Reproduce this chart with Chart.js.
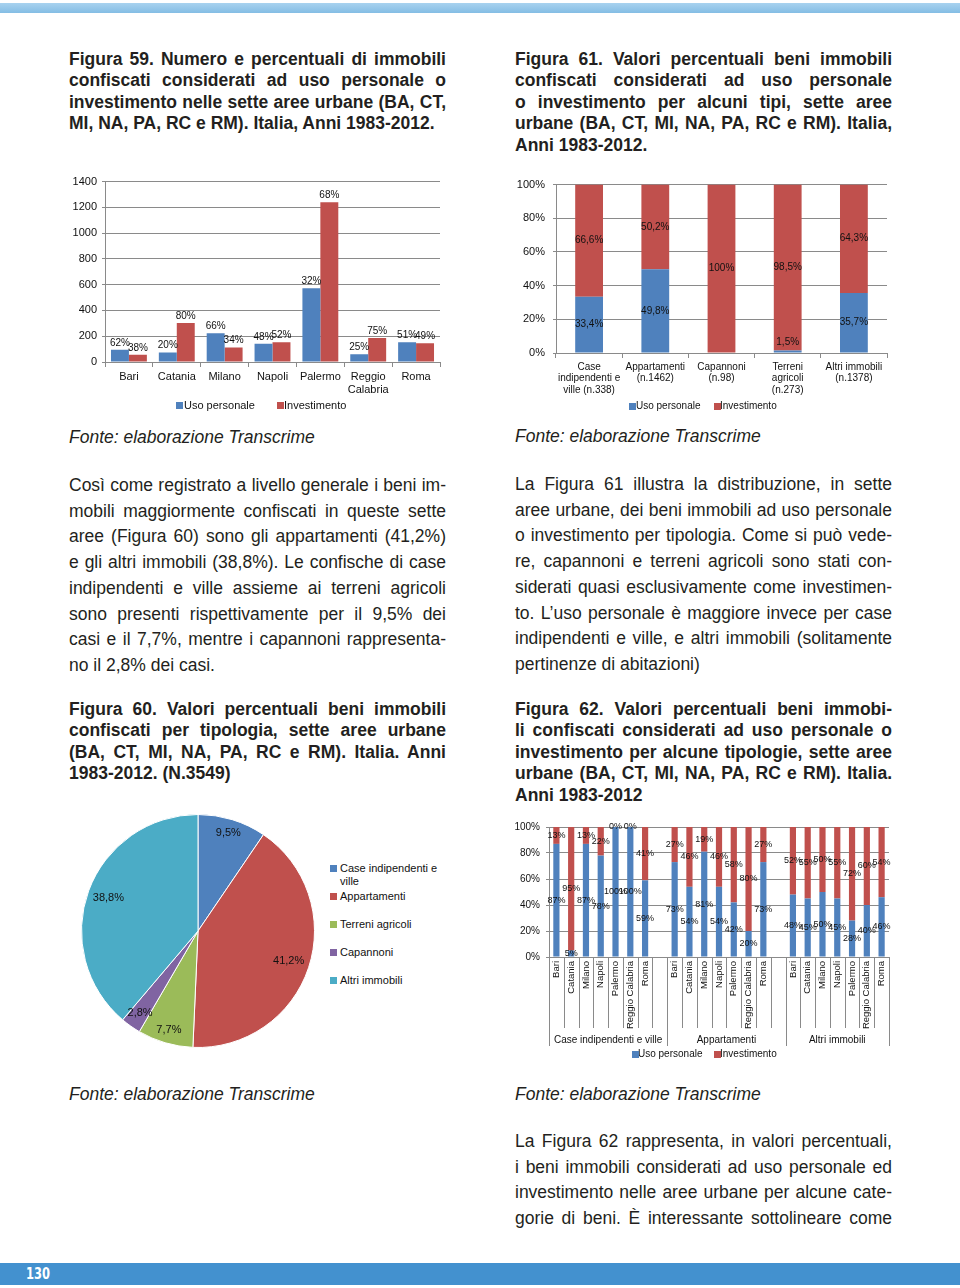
<!DOCTYPE html>
<html><head><meta charset="utf-8">
<script src="https://cdn.jsdelivr.net/npm/chart.js@4/dist/chart.umd.min.js"></script>
<style>
html,body{margin:0;padding:0;background:#fff;}
body{width:960px;height:1288px;position:relative;overflow:hidden;font-family:'Liberation Sans',Arial,Helvetica,sans-serif;color:#231f20;}
.abs{position:absolute;}
.cap{font-weight:bold;font-size:17.5px;line-height:21.4px;width:377px;}
.txt{font-size:17.5px;line-height:25.7px;width:377px;}
.ln{text-align:justify;text-align-last:justify;white-space:normal;}
.last{text-align:left;text-align-last:left;}
.src{font-style:italic;font-size:17.5px;line-height:22px;white-space:nowrap;}
.hdr{left:0;top:3px;width:960px;height:10px;background:linear-gradient(#a8d2ef,#84bde4);}
.ftr{left:0;top:1263px;width:960px;height:22px;background:#4391cf;}
.pg{left:26px;top:1263px;height:22px;line-height:22px;color:#fff;font-weight:bold;font-size:15px;font-family:'Liberation Sans Narrow','DejaVu Sans Condensed',sans-serif;transform:scaleX(0.85);transform-origin:left;}
.lg{position:absolute;white-space:nowrap;color:#111;}
.lg i{position:absolute;left:0;width:7px;height:7px;}
canvas{position:absolute;}
</style>
</head>
<body>
<div class="abs hdr"></div>

<!-- Left column -->
<div class="abs cap" style="left:69px;top:49px;">
<div class="ln">Figura 59. Numero e percentuali di immobili</div>
<div class="ln">confiscati considerati ad uso personale o</div>
<div class="ln">investimento nelle sette aree urbane (BA, CT,</div>
<div class="ln last">MI, NA, PA, RC e RM). Italia, Anni 1983-2012.</div>
</div>

<div class="abs src" style="left:69px;top:426px;">Fonte: elaborazione Transcrime</div>

<div class="abs txt" style="left:69px;top:473px;">
<div class="ln">Così come registrato a livello generale i beni im-</div>
<div class="ln">mobili maggiormente confiscati in queste sette</div>
<div class="ln">aree (Figura 60) sono gli appartamenti (41,2%)</div>
<div class="ln">e gli altri immobili (38,8%). Le confische di case</div>
<div class="ln">indipendenti e ville assieme ai terreni agricoli</div>
<div class="ln">sono presenti rispettivamente per il 9,5% dei</div>
<div class="ln">casi e il 7,7%, mentre i capannoni rappresenta-</div>
<div class="ln last">no il 2,8% dei casi.</div>
</div>

<div class="abs cap" style="left:69px;top:699px;">
<div class="ln">Figura 60. Valori percentuali beni immobili</div>
<div class="ln">confiscati per tipologia, sette aree urbane</div>
<div class="ln">(BA, CT, MI, NA, PA, RC e RM). Italia. Anni</div>
<div class="ln last">1983-2012. (N.3549)</div>
</div>

<div class="abs src" style="left:69px;top:1083px;">Fonte: elaborazione Transcrime</div>

<!-- Right column -->
<div class="abs cap" style="left:515px;top:49px;">
<div class="ln">Figura 61. Valori percentuali beni immobili</div>
<div class="ln">confiscati considerati ad uso personale</div>
<div class="ln">o investimento per alcuni tipi, sette aree</div>
<div class="ln">urbane (BA, CT, MI, NA, PA, RC e RM). Italia,</div>
<div class="ln last">Anni 1983-2012.</div>
</div>

<div class="abs src" style="left:515px;top:425px;">Fonte: elaborazione Transcrime</div>

<div class="abs txt" style="left:515px;top:472px;">
<div class="ln">La Figura 61 illustra la distribuzione, in sette</div>
<div class="ln">aree urbane, dei beni immobili ad uso personale</div>
<div class="ln">o investimento per tipologia. Come si può vede-</div>
<div class="ln">re, capannoni e terreni agricoli sono stati con-</div>
<div class="ln">siderati quasi esclusivamente come investimen-</div>
<div class="ln">to. L’uso personale è maggiore invece per case</div>
<div class="ln">indipendenti e ville, e altri immobili (solitamente</div>
<div class="ln last">pertinenze di abitazioni)</div>
</div>

<div class="abs cap" style="left:515px;top:699px;">
<div class="ln">Figura 62. Valori percentuali beni immobi-</div>
<div class="ln">li confiscati considerati ad uso personale o</div>
<div class="ln">investimento per alcune tipologie, sette aree</div>
<div class="ln">urbane (BA, CT, MI, NA, PA, RC e RM). Italia.</div>
<div class="ln last">Anni 1983-2012</div>
</div>

<div class="abs src" style="left:515px;top:1083px;">Fonte: elaborazione Transcrime</div>

<div class="abs txt" style="left:515px;top:1129px;">
<div class="ln">La Figura 62 rappresenta, in valori percentuali,</div>
<div class="ln">i beni immobili considerati ad uso personale ed</div>
<div class="ln">investimento nelle aree urbane per alcune cate-</div>
<div class="ln">gorie di beni. È interessante sottolineare come</div>
</div>

<div class="abs ftr"></div>
<div class="abs pg">130</div>

<canvas id="c59" width="390" height="232" style="left:60px;top:170px;"></canvas>
<canvas id="c61" width="390" height="232" style="left:510px;top:170px;"></canvas>
<canvas id="c60" width="260" height="260" style="left:68px;top:801px;"></canvas>
<canvas id="c62" width="395" height="236" style="left:505px;top:815px;"></canvas>

<script>
// ---------------- DATA ----------------
const seriesNames = ['Uso personale', 'Investimento'];
const seriesColors = ['#4f81bd', '#c0504d'];

// Figura 59
const cities59 = ['Bari', 'Catania', 'Milano', 'Napoli', 'Palermo', ['Reggio', 'Calabria'], 'Roma'];
const uso59 = [95, 74, 223, 141, 573, 61, 154];
const inv59 = [56, 302, 113, 154, 1239, 187, 146];
const uso59Pct = [62, 20, 66, 48, 32, 25, 51];
const inv59Pct = [38, 80, 34, 52, 68, 75, 49];

// Figura 61
const types61 = [['Case', 'indipendenti e', 'ville (n.338)'], ['Appartamenti', '(n.1462)'], ['Capannoni', '(n.98)'], ['Terreni', 'agricoli', '(n.273)'], ['Altri immobili', '(n.1378)']];
const uso61 = [33.4, 49.8, 0, 1.5, 35.7];
const inv61 = [66.6, 50.2, 100, 98.5, 64.3];

// Figura 60
const types60 = ['Case indipendenti e ville', 'Appartamenti', 'Terreni agricoli', 'Capannoni', 'Altri immobili'];
const share60 = [9.5, 41.2, 7.7, 2.8, 38.8];
const colors60 = ['#4f81bd', '#c0504d', '#9bbb59', '#8064a2', '#4bacc6'];

// Figura 62
const cities62 = ['Bari', 'Catania', 'Milano', 'Napoli', 'Palermo', 'Reggio Calabria', 'Roma'];
const groups62 = ['Case indipendenti e ville', 'Appartamenti', 'Altri immobili'];
const usoCase62 = [87, 5, 87, 78, 100, 100, 59];
const invCase62 = [13, 95, 13, 22, 0, 0, 41];
const usoApp62 = [73, 54, 81, 54, 42, 20, 73];
const invApp62 = [27, 46, 19, 46, 58, 80, 27];
const usoAltri62 = [48, 45, 50, 45, 28, 40, 46];
const invAltri62 = [52, 55, 50, 55, 72, 60, 54];

// ---------------- HELPERS ----------------
const FONT = "'Liberation Sans', Arial, Helvetica, sans-serif";
Chart.defaults.font.family = FONT;
Chart.defaults.color = '#111';
const GRID = '#8a8a8a';
const pctFmt = v => (Number.isInteger(v) ? String(v) : v.toFixed(1).replace('.', ',')) + '%';

const valueLabels = {
  id: 'valueLabels',
  afterDatasetsDraw(chart, args, o) {
    if (!o || !o.mode) return;
    const ctx = chart.ctx;
    ctx.save();
    ctx.font = o.size + 'px ' + FONT;
    ctx.fillStyle = o.color || '#111';
    ctx.textAlign = 'center';
    ctx.textBaseline = 'middle';
    chart.data.datasets.forEach((ds, di) => {
      const meta = chart.getDatasetMeta(di);
      meta.data.forEach((el, i) => {
        const v = ds.data[i];
        if (v === null || v === undefined) return;
        if (v === 0 && !o.showZero) return;
        const text = o.format(v, di, i);
        if (o.mode === 'top') {
          ctx.fillText(text, el.x, el.y - o.offset);
        } else if (o.mode === 'center') {
          const h = Math.abs(el.base - el.y);
          let y = (el.y + el.base) / 2;
          if (o.smallAbove && v > 0 && h < o.smallAbove) y = el.y - 8;
          ctx.fillText(text, el.x, y);
        } else if (o.mode === 'arc') {
          const mid = (el.startAngle + el.endAngle) / 2;
          const w = ctx.measureText(text).width, hh = o.size;
          const r = el.outerRadius - (Math.abs(Math.cos(mid)) * w / 2 + Math.abs(Math.sin(mid)) * hh / 2) - o.pad;
          ctx.fillText(text, el.x + Math.cos(mid) * r, el.y + Math.sin(mid) * r);
        }
      });
    });
    ctx.restore();
  }
};

const groupAxis = {
  id: 'groupAxis',
  afterDraw(chart, args, o) {
    if (!o || !o.groups) return;
    const xs = chart.scales.x, ctx = chart.ctx;
    const n = chart.data.labels.length;
    const bottom = chart.chartArea.bottom;
    const step = xs.getPixelForValue(1) - xs.getPixelForValue(0);
    const edge = i => xs.getPixelForValue(0) - step / 2 + i * step;
    const longEdges = new Set();
    o.groups.forEach(g => { longEdges.add(g.start); longEdges.add(g.end + 1); });
    ctx.save();
    ctx.strokeStyle = GRID;
    ctx.lineWidth = 1;
    for (let i = 0; i <= n; i++) {
      const px = Math.round(edge(i)) + 0.5;
      ctx.beginPath();
      ctx.moveTo(px, bottom);
      ctx.lineTo(px, bottom + (longEdges.has(i) ? o.longTick : o.shortTick));
      ctx.stroke();
    }
    ctx.font = o.size + 'px ' + FONT;
    ctx.fillStyle = '#111';
    ctx.textAlign = 'center';
    ctx.textBaseline = 'middle';
    o.groups.forEach(g => ctx.fillText(g.label, (edge(g.start) + edge(g.end + 1)) / 2, bottom + o.labelOffset));
    ctx.restore();
  }
};

function yAxis(opts) {
  return Object.assign({
    beginAtZero: true,
    grid: { color: GRID, drawTicks: true, tickLength: 3 },
    border: { display: true, color: GRID },
    afterFit: s => { s.width = opts.width; }
  }, opts.extra);
}

function legendHTML(items, size, y) {
  items.forEach(it => {
    const d = document.createElement('div');
    d.className = 'lg';
    d.style.left = it.x + 'px';
    d.style.top = (y - size * 0.6) + 'px';
    d.style.fontSize = size + 'px';
    d.style.lineHeight = (size * 1.2) + 'px';
    d.style.paddingLeft = it.gap + 'px';
    const sq = document.createElement('i');
    sq.style.background = it.color;
    sq.style.top = (size * 0.6 - 3.5) + 'px';
    d.appendChild(sq);
    d.appendChild(document.createTextNode(it.text));
    document.body.appendChild(d);
  });
}

// ---------------- FIGURA 59 ----------------
new Chart(document.getElementById('c59'), {
  type: 'bar',
  data: {
    labels: cities59,
    datasets: [
      { label: seriesNames[0], data: uso59, backgroundColor: seriesColors[0] },
      { label: seriesNames[1], data: inv59, backgroundColor: seriesColors[1] }
    ]
  },
  options: {
    responsive: false, animation: false, devicePixelRatio: 1,
    categoryPercentage: 0.75, barPercentage: 1.0,
    layout: { padding: { top: 10, right: 10, left: 0, bottom: 0 } },
    plugins: {
      legend: { display: false }, tooltip: { enabled: false },
      valueLabels: { mode: 'top', size: 10, offset: 7, format: (v, di, i) => (di === 0 ? uso59Pct : inv59Pct)[i] + '%' }
    },
    scales: {
      x: {
        grid: { display: true, drawOnChartArea: false, drawTicks: true, tickLength: 5, offset: true, color: GRID },
        border: { display: true, color: GRID },
        ticks: { font: { size: 11, lineHeight: 1.2 }, padding: 3, maxRotation: 0, color: '#111' },
        afterFit: s => { s.height = 40; }
      },
      y: yAxis({ width: 45, extra: { min: 0, max: 1400, ticks: { stepSize: 200, font: { size: 11 }, padding: 5, color: '#111', callback: v => String(v) } } })
    }
  },
  plugins: [valueLabels]
});
legendHTML([
  { x: 176, gap: 8, color: seriesColors[0], text: seriesNames[0] },
  { x: 277, gap: 7, color: seriesColors[1], text: seriesNames[1] }
], 11, 406);

// ---------------- FIGURA 61 ----------------
new Chart(document.getElementById('c61'), {
  type: 'bar',
  data: {
    labels: types61,
    datasets: [
      { label: seriesNames[0], data: uso61, backgroundColor: seriesColors[0] },
      { label: seriesNames[1], data: inv61, backgroundColor: seriesColors[1] }
    ]
  },
  options: {
    responsive: false, animation: false, devicePixelRatio: 1,
    categoryPercentage: 0.42, barPercentage: 1.0,
    layout: { padding: { top: 9, right: 13, left: 0, bottom: 0 } },
    plugins: {
      legend: { display: false }, tooltip: { enabled: false },
      valueLabels: { mode: 'center', size: 10, smallAbove: 6, showZero: false, format: v => pctFmt(v) }
    },
    scales: {
      x: {
        stacked: true,
        grid: { display: true, drawOnChartArea: false, drawTicks: true, tickLength: 5, offset: true, color: GRID },
        border: { display: true, color: GRID },
        ticks: { font: { size: 10, lineHeight: 1.15 }, padding: 3, maxRotation: 0, color: '#111' },
        afterFit: s => { s.height = 49; }
      },
      y: yAxis({ width: 46, extra: { stacked: true, min: 0, max: 100, ticks: { stepSize: 20, font: { size: 11 }, padding: 8, color: '#111', callback: v => v + '%' } } })
    }
  },
  plugins: [valueLabels]
});
legendHTML([
  { x: 629, gap: 7, color: seriesColors[0], text: seriesNames[0] },
  { x: 714, gap: 6, color: seriesColors[1], text: seriesNames[1] }
], 10, 406);

// ---------------- FIGURA 60 (pie) ----------------
new Chart(document.getElementById('c60'), {
  type: 'pie',
  data: {
    labels: types60,
    datasets: [{ data: share60, backgroundColor: colors60, borderColor: '#ffffff', borderWidth: 1 }]
  },
  options: {
    responsive: false, animation: false, devicePixelRatio: 1,
    layout: { padding: 13 },
    plugins: {
      legend: { display: false }, tooltip: { enabled: false },
      valueLabels: { mode: 'arc', size: 11, pad: 4.5, format: v => pctFmt(v) }
    }
  },
  plugins: [valueLabels]
});
(function () {
  const ys = [868, 896, 924, 952, 980];
  types60.forEach((t, i) => {
    const d = document.createElement('div');
    d.className = 'lg';
    d.style.left = '330px';
    d.style.top = (ys[i] - 6.5) + 'px';
    d.style.fontSize = '11px';
    d.style.lineHeight = '13px';
    d.style.paddingLeft = '10px';
    d.style.whiteSpace = 'normal';
    d.style.width = '102px';
    const sq = document.createElement('i');
    sq.style.background = colors60[i];
    sq.style.top = '3px';
    d.appendChild(sq);
    d.appendChild(document.createTextNode(t));
    document.body.appendChild(d);
  });
})();

// ---------------- FIGURA 62 ----------------
const usoGroups62 = [usoCase62, usoApp62, usoAltri62];
const invGroups62 = [invCase62, invApp62, invAltri62];
const labels62 = [], uso62 = [], inv62 = [], groupSpans62 = [];
groups62.forEach((g, gi) => {
  const start = labels62.length;
  cities62.forEach((c, ci) => { labels62.push(c); uso62.push(usoGroups62[gi][ci]); inv62.push(invGroups62[gi][ci]); });
  if (gi < groups62.length - 1) { labels62.push(''); uso62.push(null); inv62.push(null); }
  groupSpans62.push({ label: g, start: start, end: labels62.length - 1 });
});

new Chart(document.getElementById('c62'), {
  type: 'bar',
  data: {
    labels: labels62,
    datasets: [
      { label: seriesNames[0], data: uso62, backgroundColor: seriesColors[0] },
      { label: seriesNames[1], data: inv62, backgroundColor: seriesColors[1] }
    ]
  },
  options: {
    responsive: false, animation: false, devicePixelRatio: 1,
    categoryPercentage: 0.42, barPercentage: 1.0,
    layout: { padding: { top: 12, right: 11, left: 0, bottom: 0 } },
    plugins: {
      legend: { display: false }, tooltip: { enabled: false },
      valueLabels: { mode: 'center', size: 9, showZero: true, format: v => v + '%' },
      groupAxis: { groups: groupSpans62, shortTick: 71, longTick: 89, labelOffset: 83, size: 10 }
    },
    scales: {
      x: {
        stacked: true,
        grid: { display: true, drawOnChartArea: false, drawTicks: false },
        border: { display: true, color: GRID },
        ticks: { font: { size: 9.5 }, padding: 4, minRotation: 90, maxRotation: 90, autoSkip: false, color: '#111' },
        afterFit: s => { s.height = 94; }
      },
      y: yAxis({ width: 44, extra: { stacked: true, min: 0, max: 100, ticks: { stepSize: 10, font: { size: 10 }, padding: 6, color: '#111', callback: v => v + '%' } } })
    }
  },
  plugins: [valueLabels, groupAxis]
});
legendHTML([
  { x: 632, gap: 6, color: seriesColors[0], text: seriesNames[0] },
  { x: 714, gap: 6, color: seriesColors[1], text: seriesNames[1] }
], 10, 1054);
</script>
</body></html>
